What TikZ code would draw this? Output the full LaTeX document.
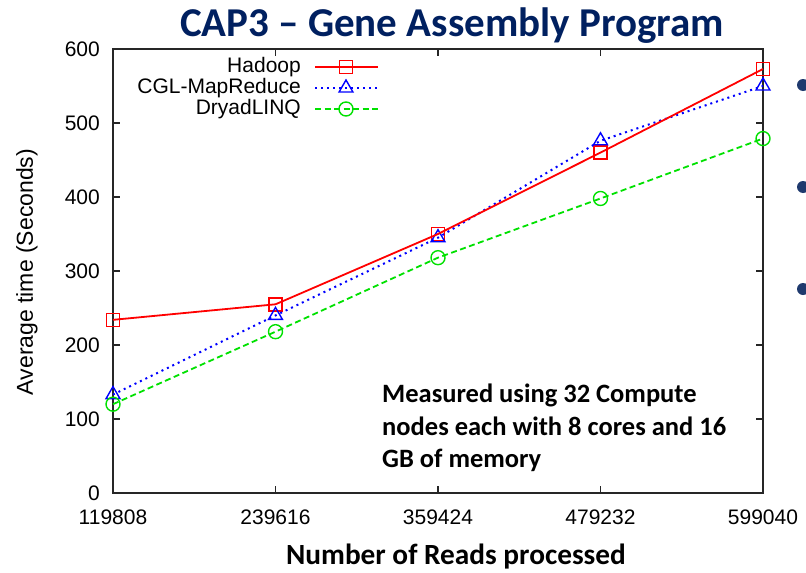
\documentclass[tikz,border=0pt]{standalone}
\usepackage{fontspec}
\setmainfont{Liberation Sans}
\newfontfamily\calibri{Carlito}
\usetikzlibrary{shapes.geometric}
\definecolor{titlenavy}{RGB}{0,32,96}
\definecolor{bulletnavy}{RGB}{31,58,110}
\definecolor{plotgreen}{RGB}{0,225,0}

\tikzset{
    hmark/.style={draw=red, line width=1.4pt, minimum size=13pt, inner sep=0pt},
    cmark/.style={draw=blue, regular polygon, regular polygon sides=3, minimum size=16pt, inner sep=0pt, line width=1.4pt},
    dmark/.style={draw=plotgreen, circle, minimum size=14pt, inner sep=0pt, line width=1.4pt},
    hline/.style={red, line width=1.8pt},
    cline/.style={blue, line width=2pt, dash pattern=on 2pt off 4pt},
    dline/.style={plotgreen, line width=1.8pt, dash pattern=on 6pt off 3.5pt},
    ticklabel/.style={font=\fontsize{21}{25}\selectfont, inner sep=0pt},
}

\begin{document}
\begin{tikzpicture}[x=1pt, y=-1pt]
    \useasboundingbox[fill=white] (0,0) rectangle (806,573);

    % Title and axis labels
    \node[text=titlenavy, font=\calibri\bfseries\fontsize{41}{45}\selectfont, anchor=base] (title) at (452,36) {CAP3 – Gene Assembly Program};
    \node[font=\calibri\bfseries\fontsize{29.3}{32}\selectfont, anchor=base] (xlabel) at (456,564) {Number of Reads processed};
    \node[font=\fontsize{23}{27}\selectfont, rotate=90] (ylabel) at (27,272) {Average time (Seconds)};

    % Frame and ticks
    \draw[line width=1.4pt, black!85] (113,49) rectangle (763,493);
    \foreach \v in {0,100,...,600} {
        \draw[line width=1.2pt, black!85] (113,{493-0.74*\v}) -- (120,{493-0.74*\v});
        \draw[line width=1.2pt, black!85] (763,{493-0.74*\v}) -- (756,{493-0.74*\v});
        \node[ticklabel, anchor=east] (y\v) at (100,{493-0.74*\v}) {\v};
    }
    \foreach \i/\n in {0/119808,1/239616,2/359424,3/479232,4/599040} {
        \draw[line width=1.2pt, black!85] ({113+162.5*\i},493) -- ({113+162.5*\i},486);
        \draw[line width=1.2pt, black!85] ({113+162.5*\i},49) -- ({113+162.5*\i},56);
        \node[ticklabel] (x\i) at ({113+162.5*\i},517) {\n};
    }

    % Data points
    \node[hmark] (h1) at (113,{493-0.74*234}) {};
    \node[hmark] (h2) at (275.5,{493-0.74*255}) {};
    \node[hmark] (h3) at (438,{493-0.74*350}) {};
    \node[hmark] (h4) at (600.5,{493-0.74*460}) {};
    \node[hmark] (h5) at (763,{493-0.74*573}) {};
    \node[cmark] (c1) at (113,{493-0.74*133}) {};
    \node[cmark] (c2) at (275.5,{493-0.74*240}) {};
    \node[cmark] (c3) at (438,{493-0.74*345}) {};
    \node[cmark] (c4) at (600.5,{493-0.74*476}) {};
    \node[cmark] (c5) at (763,{493-0.74*550}) {};
    \node[dmark] (d1) at (113,{493-0.74*120}) {};
    \node[dmark] (d2) at (275.5,{493-0.74*218}) {};
    \node[dmark] (d3) at (438,{493-0.74*318}) {};
    \node[dmark] (d4) at (600.5,{493-0.74*398}) {};
    \node[dmark] (d5) at (763,{493-0.74*479}) {};

    % Draw lines
    \draw[dline] (d1.center) -- (d2.center) -- (d3.center) -- (d4.center) -- (d5.center);
    \draw[cline] (c1.center) -- (c2.center) -- (c3.center) -- (c4.center) -- (c5.center);
    \draw[hline] (h1.center) -- (h2.center) -- (h3.center) -- (h4.center) -- (h5.center);

    % Legend
    \node[ticklabel, anchor=east] (lh) at (301,67) {Hadoop};
    \node[ticklabel, anchor=east] (lc) at (301,88) {CGL-MapReduce};
    \node[ticklabel, anchor=east] (ld) at (301,109) {DryadLINQ};
    \coordinate (lh1) at (315,67);
    \coordinate (lh2) at (378,67);
    \coordinate (lc1) at (315,88);
    \coordinate (lc2) at (378,88);
    \coordinate (ld1) at (315,109);
    \coordinate (ld2) at (378,109);
    \draw[hline] (lh1) -- (lh2);
    \draw[cline] (lc1) -- (lc2);
    \draw[dline] (ld1) -- (ld2);
    \node[hmark] (lhm) at (346,67) {};
    \node[cmark] (lcm) at (346,88) {};
    \node[dmark] (ldm) at (346,109) {};

    % Note
    \node[font=\calibri\bfseries\fontsize{26.5}{32.5}\selectfont, align=left, anchor=north west, inner sep=0pt] (note) at (382,384) {Measured using 32 Compute\\nodes each with 8 cores and 16\\GB of memory};

    % Bullets
    \node[circle, fill=bulletnavy, minimum size=12pt, inner sep=0pt] (b1) at (803,85) {};
    \node[circle, fill=bulletnavy, minimum size=12pt, inner sep=0pt] (b2) at (803,187) {};
    \node[circle, fill=bulletnavy, minimum size=12pt, inner sep=0pt] (b3) at (803,289) {};
\end{tikzpicture}
\end{document}
